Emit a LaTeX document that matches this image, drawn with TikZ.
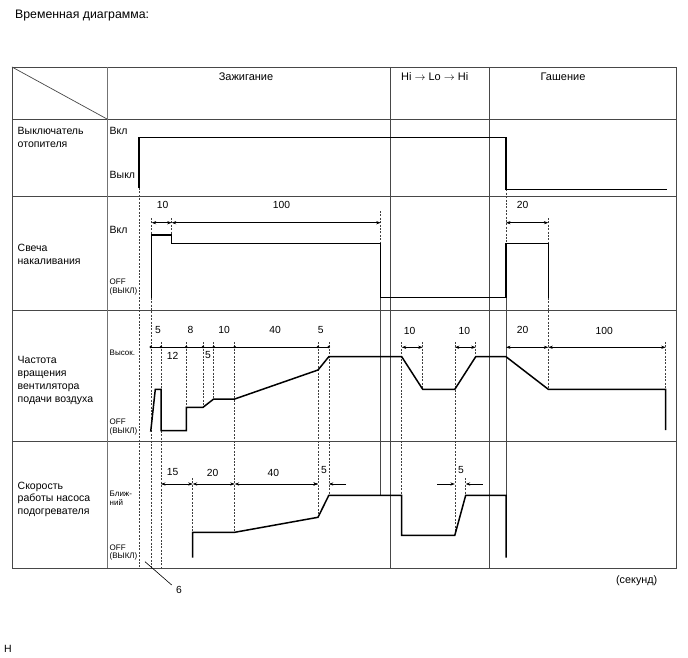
\documentclass[tikz,border=0pt]{standalone}
\usepackage{fontspec}
\setmainfont{Liberation Sans}
\usetikzlibrary{arrows.meta}
\begin{document}
\begin{tikzpicture}[x=1pt,y=-1pt,
  grid/.style={draw=black!72, line width=0.8pt},
  sig/.style={draw=black, line width=1.5pt, line join=miter},
  guide/.style={draw=black!75, line width=0.6pt, dash pattern=on 2pt off 1.4pt},
  thinline/.style={draw=black!72, line width=0.7pt},
  dim/.style={draw=black, line width=0.6pt, {Stealth[length=4.5pt,width=3.2pt]}-{Stealth[length=4.5pt,width=3.2pt]}},
  rarr/.style={draw=black, line width=0.6pt, -{Stealth[length=4.5pt,width=3.2pt]}},
  lab/.style={font=\fontsize{10.5}{12.7}\selectfont, align=left, inner sep=0pt},
  hdr/.style={font=\fontsize{11}{13}\selectfont, inner sep=0pt},
  small/.style={font=\fontsize{8}{8.6}\selectfont, align=left, inner sep=0pt},
  num/.style={font=\fontsize{10.3}{12}\selectfont, inner sep=0pt},
  dotm/.style={fill=black, draw=none}
]
\useasboundingbox (0,0) rectangle (688,658);

% ---------- table ----------
\draw[grid] (12,67) rectangle (676,568);
\foreach \yy in {119,196,310,441} \draw[grid] (12,\yy) -- (676,\yy);
\draw[grid, draw=black!55, line width=1.3pt] (107.5,67) -- (107.5,568);
\draw[grid] (390,67) -- (390,568);
\draw[grid] (489,67) -- (489,568);
\draw[thinline] (12,67) -- (107,119);

% ---------- dashed guides ----------
\draw[guide] (139,188) -- (139,568);
\draw[guide] (151.7,218) -- (151.7,235);
\draw[guide] (151.7,297.7) -- (151.7,568);
\draw[guide] (161,342) -- (161,389.3);
\draw[guide] (161,430.7) -- (161,568);
\draw[guide] (171.7,218) -- (171.7,243.3);
\draw[guide] (186.3,342) -- (186.3,407.3);
\draw[guide] (192.7,478) -- (192.7,532.3);
\draw[guide] (203,342) -- (203,407.3);
\draw[guide] (213.7,342) -- (213.7,399);
\draw[guide] (234.7,342) -- (234.7,532.3);
\draw[guide] (318,342) -- (318,517.3);
\draw[guide] (328.8,342) -- (328.8,495.3);
\draw[guide] (380.7,211) -- (380.7,243.3);
\draw[guide] (401.7,342) -- (401.7,495.3);
\draw[guide] (422.7,342) -- (422.7,389.3);
\draw[guide] (454.8,342) -- (454.8,535.3);
\draw[guide] (465.7,478) -- (465.7,495.3);
\draw[guide] (475.7,342) -- (475.7,356.7);
\draw[guide] (506,189.3) -- (506,243.3);
\draw[guide] (548.3,218) -- (548.3,243.3);
\draw[guide] (548.3,297.7) -- (548.3,389.3);
\draw[guide] (665.7,342) -- (665.7,389.3);

% thin solid guides
\draw[thinline] (380.7,297.7) -- (380.7,495.3);
\draw[thinline] (506,297.7) -- (506,495.3);

% ---------- signals ----------
\draw[sig] (139,188) -- (139,137.3) -- (506,137.3) -- (506,189.3) -- (666.7,189.3);
\draw[sig] (151.7,297.7) -- (151.7,235) -- (171.7,235) -- (171.7,243.3) -- (380.7,243.3)
  -- (380.7,297.7) -- (506,297.7) -- (506,243.3) -- (548.3,243.3) -- (548.3,297.7);
\draw[sig] (150.7,431.7) -- (155.3,389.3) -- (161,389.3) -- (161,430.7) -- (186.3,430.7)
  -- (186.3,407.3) -- (203,407.3) -- (213.7,399) -- (234.7,399) -- (318,370)
  -- (328.8,356.7) -- (401.7,356.7) -- (422.7,389.3) -- (454.8,389.3) -- (475.7,356.7)
  -- (506,356.7) -- (548.3,389.3) -- (665.7,389.3) -- (665.7,430);
\draw[sig] (192.7,557.7) -- (192.7,532.3) -- (234.7,532.3) -- (318,517.3) -- (328.8,495.3)
  -- (401.7,495.3) -- (401.7,535.3) -- (454.8,535.3) -- (465.7,495.3) -- (506,495.3)
  -- (506,557.7);

% ---------- dimensions ----------
% glow plug row
\draw[dim] (151.7,222.7) -- (171.7,222.7);
\draw[dim] (171.7,222.7) -- (380.7,222.7);
\draw[dim] (506,222.7) -- (548.3,222.7);
\node[num] (d10a) at (162.5,205) {10};
\node[num] (d100a) at (281.5,205) {100};
\node[num] (d20a) at (522.5,205) {20};

% fan row (dotted dimension)
\draw[draw=black, line width=0.6pt] (150.7,347) -- (328.8,347);
\foreach \xx in {150.7,161,186.3,203,213.7,234.7,318,328.8}
  \fill[dotm] (\xx,347) circle (1.4pt);
\node[num] (f5a) at (158,330) {5};
\node[num] (f8) at (190.5,330) {8};
\node[num] (f10) at (224,330) {10};
\node[num] (f40) at (275,330) {40};
\node[num] (f5c) at (320.7,330) {5};
\node[num] (f12) at (172.5,355.5) {12};
\node[num] (f5b) at (208,355.5) {5};

\draw[dim] (401.7,347.3) -- (422.7,347.3);
\draw[dim] (454.8,347.3) -- (475.7,347.3);
\draw[dim] (506,347.3) -- (548.3,347.3);
\draw[dim] (548.3,347.3) -- (665.7,347.3);
\node[num] (f10b) at (409.5,331) {10};
\node[num] (f10c) at (464.3,331) {10};
\node[num] (f20) at (522.7,330) {20};
\node[num] (f100) at (604.3,331) {100};

% pump row
\draw[dim] (161,484) -- (192.7,484);
\draw[dim] (192.7,484) -- (234.7,484);
\draw[dim] (234.7,484) -- (318,484);
\draw[rarr] (300,484) -- (318,484);
\draw[rarr] (346,484) -- (328.8,484);
\draw[rarr] (437,484) -- (454.8,484);
\draw[rarr] (482.7,484) -- (465.7,484);
\node[num] (p15) at (172.7,472.5) {15};
\node[num] (p20) at (212.7,472.5) {20};
\node[num] (p40) at (273.3,472.5) {40};
\node[num] (p5a) at (324,470) {5};
\node[num] (p5b) at (461,470) {5};

% leader "6"
\coordinate (l6a) at (145,561.7);
\node[num] (six) at (179,590) {6};
\draw[draw=black, line width=0.6pt] (l6a) -- (171.7,585);

% ---------- texts ----------
\node[lab, anchor=west, font=\fontsize{12.3}{14}\selectfont] (title) at (15,15.5) {Временная диаграмма:};
\node[hdr] (h1) at (246,76.5) {Зажигание};
\node[hdr] (h2) at (434.7,76.5) {Hi $\rightarrow$ Lo $\rightarrow$ Hi};
\node[hdr] (h3) at (563,76.5) {Гашение};

\node[lab, anchor=west] (r1) at (17.5,137.3) {Выключатель\\отопителя};
\node[lab, anchor=west] (r2) at (17.5,254.3) {Свеча\\накаливания};
\node[lab, anchor=west] (r3) at (17.5,380.5) {Частота\\вращения\\вентилятора\\подачи воздуха};
\node[lab, anchor=west] (r4) at (17.5,499.3) {Скорость\\работы насоса\\подогревателя};

\node[lab, anchor=west] (s1on) at (109.5,131) {Вкл};
\node[lab, anchor=west] (s1off) at (109.5,175) {Выкл};
\node[lab, anchor=west] (s2on) at (109.5,229.5) {Вкл};
\node[small, anchor=west] (s2off) at (109.5,287) {OFF\\(ВЫКЛ)};
\node[small, anchor=west] (s3on) at (109.5,352.3) {Высок.};
\node[small, anchor=west] (s3off) at (109.5,427) {OFF\\(ВЫКЛ)};
\node[small, anchor=west] (s4on) at (109.5,498.5) {Ближ-\\ний};
\node[small, anchor=west] (s4off) at (109.5,552.5) {OFF\\(ВЫКЛ)};

\node[lab, font=\fontsize{10.8}{12}\selectfont] (sec) at (636.7,580.7) {(секунд)};
\node[lab, anchor=west] (hh) at (4,649) {H};
\end{tikzpicture}
\end{document}
